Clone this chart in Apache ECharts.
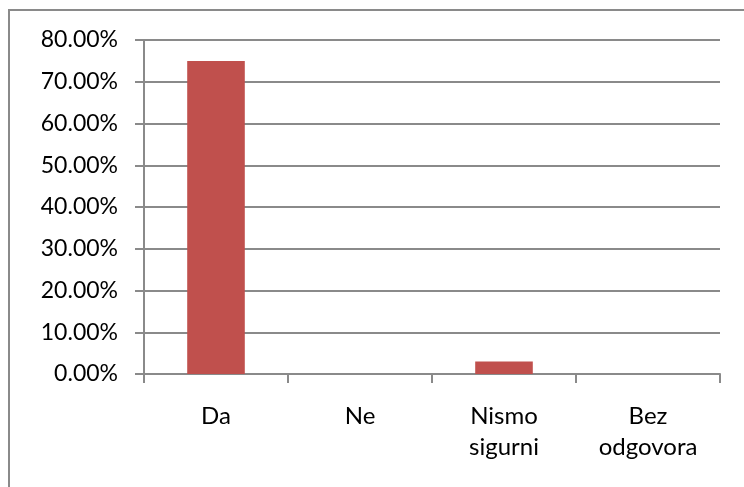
<!DOCTYPE html>
<html>
<head>
<meta charset="utf-8">
<script src="https://cdn.jsdelivr.net/npm/echarts@6/dist/echarts.min.js"></script>
<style>
html, body { margin: 0; padding: 0; background: #fff; }
#chart { width: 744px; height: 487px; }
</style>
</head>
<body>
<div id="chart"></div>
<script>
// kategorije i vrijednosti (postotci)
const categories = ['Da', 'Ne', 'Nismo\nsigurni', 'Bez\nodgovora']
const values = [75, 0, 3, 0]
const yMax = 80
const yStep = 10

const chart = echarts.init(document.getElementById('chart'))
const font = 'Lato, "Open Sans", sans-serif'
const gray = '#8a8a8a'
const option = {
    animation: false,
    graphic: [{
        // okvir grafikona (desni i donji rub su izvan slike)
        type: 'rect',
        shape: { x: 9, y: 10, width: 760, height: 500 },
        style: { fill: 'none', stroke: gray, lineWidth: 2 },
        z: -1
    }],
    grid: { left: 144, right: 24, top: 40, bottom: 113 },
    xAxis: {
        type: 'category',
        data: categories,
        axisLine: { show: true, lineStyle: { color: gray, width: 2 } },
        axisTick: { show: true, length: 9, lineStyle: { color: gray, width: 2 } },
        axisLabel: { color: '#000', fontSize: 24, fontFamily: font, margin: 27, lineHeight: 31, interval: 0 }
    },
    yAxis: {
        type: 'value',
        min: 0,
        max: yMax,
        interval: yStep,
        axisLine: { show: true, lineStyle: { color: gray, width: 2 } },
        axisTick: { show: true, length: 9, lineStyle: { color: gray, width: 2 } },
        splitLine: { show: true, lineStyle: { color: gray, width: 2 } },
        axisLabel: {
            color: '#000', fontSize: 23, fontFamily: font, margin: 26,
            formatter: v => v.toFixed(2) + '%'
        }
    },
    series: [{
        type: 'bar',
        data: values,
        barWidth: '40%',
        itemStyle: { color: '#c0504d' }
    }]
}
chart.setOption(option)
</script>
</body>
</html>
